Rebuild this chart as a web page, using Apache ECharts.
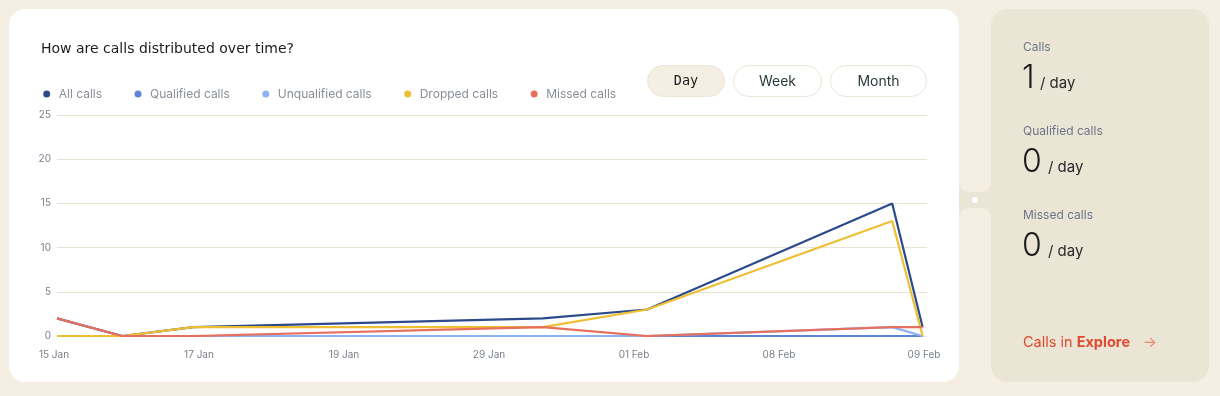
<!DOCTYPE html>
<html><head><meta charset="utf-8">
<script src="https://cdn.jsdelivr.net/npm/echarts@6/dist/echarts.min.js"></script>
<style>html,body{margin:0;padding:0;background:#f5eee2;}#c{width:1220px;height:396px;}</style>
</head><body><div id="c"></div>
<script>
// ---- data ----
const xLabels = ['15 Jan', '17 Jan', '19 Jan', '29 Jan', '01 Feb', '08 Feb', '09 Feb'];
const xPos = [0, 0.45, 0.94, 3.35, 4.07, 5.76, 5.97];
const allCalls = [2, 0, 1, 2, 3, 15, 1];
const qualifiedCalls = [0, 0, 0, 0, 0, 0, 0];
const unqualifiedCalls = [0, 0, 0, 0, 0, 1, 0];
const droppedCalls = [0, 0, 1, 1, 3, 13, 0];
const missedCalls = [2, 0, 0, 1, 0, 1, 1];
const seriesNames = ['All calls', 'Qualified calls', 'Unqualified calls', 'Dropped calls', 'Missed calls'];
const periodButtons = ['Day', 'Week', 'Month'];
const statLabels = ['Calls', 'Qualified calls', 'Missed calls'];
const statValues = [1, 0, 0];

// ---- styling ----
const FF = "Inter, 'Noto Sans', sans-serif";
const colors = ['#2b4a8b', '#5b84d4', '#8db2f6', '#efbf33', '#e6705d'];
const BG = '#f5eee2', PANEL = '#ebe5d6';

const seriesData = [allCalls, qualifiedCalls, unqualifiedCalls, droppedCalls, missedCalls];
const series = seriesNames.map((n, i) => ({
  name: n, type: 'line', symbol: 'none', smooth: false,
  data: xPos.map((x, k) => [x, seriesData[i][k]]),
  lineStyle: { width: 2.2, color: colors[i] },
  itemStyle: { color: colors[i] },
  emphasis: { disabled: true }
}));

const g = [];
// backgrounds
g.push({ type: 'rect', z: -10, shape: { x: 9, y: 9, width: 950, height: 373, r: 16 }, style: { fill: '#ffffff' } });
g.push({ type: 'rect', z: -10, shape: { x: 991, y: 9, width: 218, height: 373, r: 16 }, style: { fill: PANEL } });
g.push({ type: 'rect', z: -9, shape: { x: 959, y: 180, width: 34, height: 40 }, style: { fill: PANEL } });
g.push({ type: 'rect', z: -8, shape: { x: 959, y: -20, width: 32, height: 212, r: [0, 0, 10, 10] }, style: { fill: BG } });
g.push({ type: 'rect', z: -8, shape: { x: 959, y: 208, width: 32, height: 200, r: [10, 10, 0, 0] }, style: { fill: BG } });
g.push({ type: 'circle', z: -7, shape: { cx: 975, cy: 200, r: 3 }, style: { fill: '#ffffff' } });

// buttons
const btn = [[647, 78, true], [733, 89, false], [830, 97, false]];
periodButtons.forEach((t, i) => {
  const [x, w, act] = btn[i];
  g.push({ type: 'rect', z: -5, shape: { x: x + 0.5, y: 65.5, width: w - 1, height: 31, r: 15.5 },
    style: { fill: act ? '#f5eee2' : '#ffffff', stroke: act ? '#efe6d6' : '#ece5d8', lineWidth: 1 } });
  g.push({ type: 'text', x: x + w / 2, y: 81.5, style: { text: t, align: 'center', verticalAlign: 'middle',
    fontSize: act ? 13.5 : 14, fontFamily: act ? "'DejaVu Sans Mono', 'Liberation Mono', monospace" : FF,
    fill: act ? '#1d1d1d' : '#2b3b3d' } });
});

// stats panel
const statY = [47, 131, 215];
statLabels.forEach((t, i) => {
  const y = statY[i];
  g.push({ type: 'text', x: 1023, y: y, style: { text: t, verticalAlign: 'middle', fontSize: 12, fontFamily: FF, fill: '#6c7588' } });
  g.push({ type: 'text', x: 1022, y: y + 31, style: { text: String(statValues[i]), verticalAlign: 'middle', fontSize: 32, fontWeight: 300, fontFamily: FF, fill: '#1b1b1b' } });
  g.push({ type: 'text', x: statValues[i] === 1 ? 1040 : 1048, y: y + 36, style: { text: '/ day', verticalAlign: 'middle', fontSize: 15, fontFamily: FF, fill: '#2a2a2a' } });
});
g.push({ type: 'text', x: 1023, y: 343, style: { text: '{a|Calls in }{b|Explore}', verticalAlign: 'middle',
  rich: { a: { fontSize: 14.5, fontFamily: FF, fill: '#df4a2c' }, b: { fontSize: 14.5, fontWeight: 700, fontFamily: FF, fill: '#df4a2c' } } } });
g.push({ type: 'text', x: 1150, y: 342, style: { text: '→', align: 'center', verticalAlign: 'middle', fontSize: 15, fontFamily: FF, fill: '#e8866f' } });

const chart = echarts.init(document.getElementById('c'), null, { renderer: 'canvas' });
chart.setOption({
  backgroundColor: BG,
  animation: false,
  title: { text: 'How are calls distributed over time?', left: 41, top: 42, padding: 0,
    textStyle: { fontSize: 14, fontWeight: 400, fontFamily: "'DejaVu Sans', Inter, sans-serif", color: '#1c1c1c' } },
  legend: { data: seriesNames, left: 43.2, top: 88, padding: 0, itemWidth: 14, itemHeight: 7, itemGap: 32.5,
    icon: 'circle', selectedMode: false, textStyle: { fontSize: 12, fontFamily: FF, color: '#898e98' } },
  grid: { left: 57, right: 293, top: 115, bottom: 60, containLabel: false },
  xAxis: { type: 'value', min: 0, max: 6, interval: 1,
    axisLine: { show: false }, axisTick: { show: false }, splitLine: { show: false },
    axisLabel: { margin: 14, fontSize: 10, fontFamily: FF, color: '#7b818c', padding: [0, 6, 0, 0],
      formatter: v => xLabels[Math.round(v)] ?? '' } },
  yAxis: { type: 'value', min: 0, max: 25, interval: 5,
    axisLine: { show: false }, axisTick: { show: false },
    splitLine: { lineStyle: { color: '#ebe4d6', width: 1 } },
    axisLabel: { margin: 6, fontSize: 10, fontFamily: FF, color: '#7b818c', padding: [3, 0, 0, 0] } },
  graphic: { elements: g },
  series: series
});
</script></body></html>
